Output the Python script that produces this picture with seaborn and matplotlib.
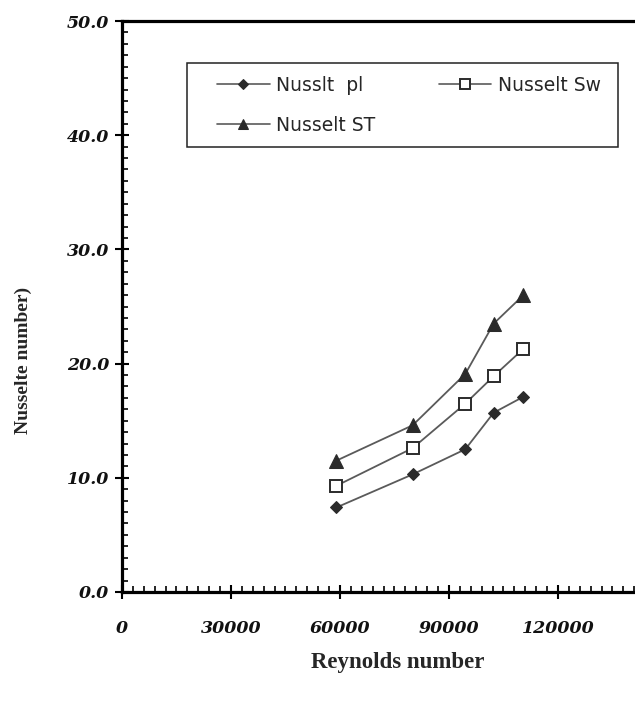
import matplotlib
matplotlib.use("Agg")
import matplotlib.pyplot as plt
from matplotlib.patches import Rectangle
from matplotlib.ticker import MultipleLocator, FormatStrFormatter
import pandas as pd
import seaborn as sns

# Values
reynolds = [59000, 80000, 94500, 102300, 110500]
nusselt_pl = [7.4, 10.3, 12.5, 15.7, 17.1]
nusselt_sw = [9.3, 12.6, 16.5, 18.9, 21.3]
nusselt_st = [11.5, 14.6, 19.1, 23.5, 26.0]

labels = ["Nusslt  pl", "Nusselt Sw", "Nusselt ST"]
x_ticks = [0, 30000, 60000, 90000, 120000]

df = pd.DataFrame({"Re": reynolds, "pl": nusselt_pl, "sw": nusselt_sw, "st": nusselt_st})

sns.set_style("white")
W, H = 635, 707
fig = plt.figure(figsize=(W / 100, H / 100), dpi=100)
ax = fig.add_axes([122 / W, 1 - 592 / H, 1 - 122 / W, (592 - 21) / H])

line_col = "#5a5a5a"
mark_col = "#2b2b2b"

sns.lineplot(data=df, x="Re", y="pl", ax=ax, color=line_col, lw=1.3,
             marker="D", markersize=6.3, markerfacecolor=mark_col,
             markeredgecolor=mark_col, label=labels[0])
sns.lineplot(data=df, x="Re", y="st", ax=ax, color=line_col, lw=1.3,
             marker="^", markersize=10, markerfacecolor=mark_col,
             markeredgecolor=mark_col, label=labels[2])
sns.lineplot(data=df, x="Re", y="sw", ax=ax, color=line_col, lw=1.3,
             marker="s", markersize=9, markerfacecolor="white",
             markeredgecolor=mark_col, markeredgewidth=1.4, label=labels[1])

ax.set_xlim(0, 141200)
ax.set_ylim(0, 50)
ax.set_xticks(x_ticks)
ax.xaxis.set_minor_locator(MultipleLocator(3000))
ax.yaxis.set_major_locator(MultipleLocator(10))
ax.yaxis.set_minor_locator(MultipleLocator(1))
ax.yaxis.set_major_formatter(FormatStrFormatter("%.1f"))

for side in ["left", "bottom", "top"]:
    ax.spines[side].set_visible(True)
    ax.spines[side].set_color("black")
    ax.spines[side].set_linewidth(2.3)
ax.spines["right"].set_visible(False)

ax.tick_params(which="major", direction="inout", length=10, width=1.5, color="black")
ax.tick_params(axis="y", which="major", pad=4)
ax.tick_params(axis="x", which="major", pad=15)
ax.tick_params(which="minor", direction="in", length=4, width=1.2, color="black")
ax.tick_params(top=False, right=False, which="both")
ax.tick_params(left=True, bottom=True, which="both")

for lab in ax.get_xticklabels() + ax.get_yticklabels():
    lab.set_family("DejaVu Serif")
    lab.set_weight("bold")
    lab.set_style("italic")
    lab.set_size(12.5)
    lab.set_color("#111111")

ax.set_xlabel("Reynolds number", family="Liberation Serif", weight="bold", fontsize=16.5)
ax.set_ylabel("Nusselte number)", family="Liberation Serif", weight="bold", fontsize=14)
ax.xaxis.set_label_coords((398 - 122) / 513, (592 - 652) / 571)
ax.yaxis.set_label_coords((32 - 122) / 513, (592 - 360) / 571)

handles, labs = ax.get_legend_handles_labels()
leg = ax.legend(handles, labs, ncol=2, frameon=False, mode="expand",
                loc="upper left",
                bbox_to_anchor=(217 / W, 1 - 83 / H, (601 - 217) / W, 0.01),
                bbox_transform=fig.transFigure, borderpad=0, borderaxespad=0,
                handlelength=2.8, handletextpad=0.37, labelspacing=1.1,
                prop={"family": "DejaVu Sans", "size": 13.5}, markerscale=0.75)
for h in leg.legend_handles:
    h.set_linewidth(1.2)

fig.patches.append(Rectangle((187 / W, 1 - 147 / H), (618 - 187) / W, (147 - 63) / H,
                             transform=fig.transFigure, fill=False,
                             edgecolor="#222222", linewidth=1.1))

fig.savefig("out.png", dpi=100)
